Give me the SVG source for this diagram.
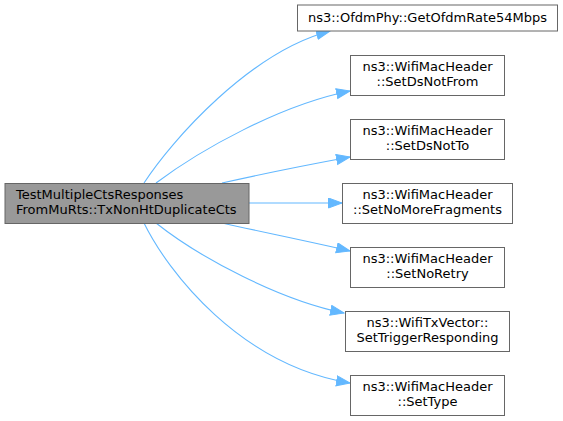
<svg xmlns="http://www.w3.org/2000/svg" width="563" height="421" viewBox="0 0 563 421">
<defs>
<style>
.node rect{fill:#ffffff;stroke:#666666;stroke-width:1}
#main rect{fill:#999999}
text{font-family:"DejaVu Sans",sans-serif;font-size:13px;fill:#000000}
.c{text-anchor:middle}
.edge{fill:none;stroke:#63b8ff;stroke-width:1.1}
</style>
<marker id="arr" markerWidth="15" markerHeight="12" refX="14" refY="5.5" orient="auto" markerUnits="userSpaceOnUse">
<polygon points="0.5,0.5 14,5.5 0.5,10.5" fill="#63b8ff" stroke="#63b8ff" stroke-width="1"/>
</marker>
</defs>
<rect x="0" y="0" width="563" height="421" fill="#ffffff"/>
<g id="connectors">
<path class="edge" marker-end="url(#arr)" d="M144,183 C172,140 250,52 330,31"/>
<path class="edge" marker-end="url(#arr)" d="M156,183 C200,150 280,105 350,91"/>
<path class="edge" marker-end="url(#arr)" d="M222,183 C262,174 312,164 350,157"/>
<path class="edge" marker-end="url(#arr)" d="M249,203 L342,203"/>
<path class="edge" marker-end="url(#arr)" d="M222,223 C262,232 312,242 350,251"/>
<path class="edge" marker-end="url(#arr)" d="M156,223 C200,258 280,300 344,313"/>
<path class="edge" marker-end="url(#arr)" d="M144,223 C168,272 240,365 350,383"/>
</g>
<g id="main" class="node">
<rect x="5" y="183.5" width="244" height="40"/>
<text x="16" y="198.5">TestMultipleCtsResponses</text>
<text x="16" y="213.5">FromMuRts::TxNonHtDuplicateCts</text>
</g>
<g id="n1" class="node">
<rect x="297.5" y="5" width="260" height="26"/>
<text class="c" x="427.5" y="22">ns3::OfdmPhy::GetOfdmRate54Mbps</text>
</g>
<g id="n2" class="node">
<rect x="350.5" y="55.5" width="154" height="40"/>
<text class="c" x="427.5" y="71">ns3::WifiMacHeader</text>
<text class="c" x="427.5" y="86">::SetDsNotFrom</text>
</g>
<g id="n3" class="node">
<rect x="350.5" y="119.5" width="154" height="40"/>
<text class="c" x="427.5" y="135">ns3::WifiMacHeader</text>
<text class="c" x="427.5" y="150">::SetDsNotTo</text>
</g>
<g id="n4" class="node">
<rect x="342.5" y="183.5" width="170" height="40"/>
<text class="c" x="427.5" y="199">ns3::WifiMacHeader</text>
<text class="c" x="427.5" y="214">::SetNoMoreFragments</text>
</g>
<g id="n5" class="node">
<rect x="350.5" y="247.5" width="154" height="40"/>
<text class="c" x="427.5" y="263">ns3::WifiMacHeader</text>
<text class="c" x="427.5" y="278">::SetNoRetry</text>
</g>
<g id="n6" class="node">
<rect x="345.5" y="311.5" width="164" height="40"/>
<text class="c" x="427.5" y="327">ns3::WifiTxVector::</text>
<text class="c" x="427.5" y="342">SetTriggerResponding</text>
</g>
<g id="n7" class="node">
<rect x="350.5" y="375.5" width="154" height="40"/>
<text class="c" x="427.5" y="391">ns3::WifiMacHeader</text>
<text class="c" x="427.5" y="406">::SetType</text>
</g>
</svg>
